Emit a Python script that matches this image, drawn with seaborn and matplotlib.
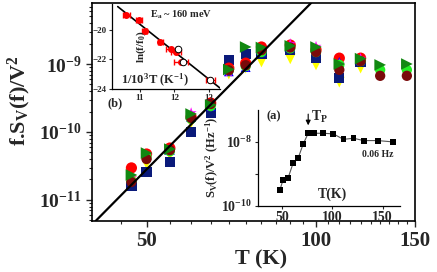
import numpy as np
import pandas as pd
import matplotlib
matplotlib.use('Agg')
import matplotlib.pyplot as plt
import seaborn as sns
from matplotlib.ticker import FixedLocator, NullFormatter

# ── DATA ─────────────────────────────────────────────────────
T = [47, 50, 55, 60, 65, 70, 75, 80, 90, 100, 110, 120, 130, 145]
nan = np.nan
red     = [2.96e-11, 4.74e-11, 5.8e-11, 1.66e-10, 2.67e-10, 8.7e-10, 1.03e-9, 1.78e-9, 1.9e-9, 1.61e-9, 1.22e-9, 1.22e-9, nan, nan]
maroon  = [1.84e-11, 4.0e-11, 5.4e-11, 1.61e-10, 2.58e-10, 8.1e-10, 9.6e-10, 1.6e-9, 1.75e-9, 1.5e-9, 8.2e-10, 1.1e-9, 6.7e-10, 6.7e-10]
green   = [2.33e-11, 4.9e-11, 5.6e-11, 1.84e-10, 2.5e-10, 8.3e-10, 1.78e-9, 1.75e-9, 1.85e-9, 1.78e-9, 1.0e-9, 1.2e-9, 9.7e-10, 1.0e-9]
lime    = [1.9e-11, 4.3e-11, 5.2e-11, 1.56e-10, 2.4e-10, 8.1e-10, 9.3e-10, 1.5e-9, 1.7e-9, 1.5e-9, 9.7e-10, 1.1e-9, 8.2e-10, 8.2e-10]
blue    = [2.04e-11, 4.6e-11, 5.43e-11, 1.66e-10, 2.4e-10, 7.8e-10, 9.0e-10, 1.5e-9, 1.8e-9, 1.6e-9, 1.07e-9, 1.15e-9, nan, nan]
magenta = [2.1e-11, 4.5e-11, 5.5e-11, 1.9e-10, 2.4e-10, 7.6e-10, 9e-10, 1.6e-9, 1.97e-9, 1.8e-9, 1.0e-9, 1.2e-9, nan, nan]
yellow  = [1.9e-11, 3.4e-11, 4.6e-11, 1.36e-10, 2.11e-10, 7.1e-10, 8.7e-10, 1.07e-9, 1.19e-9, 9.7e-10, 5.4e-10, 8.7e-10, nan, nan]
navy    = [1.6e-11, 2.58e-11, 3.62e-11, 1.0e-10, 1.9e-10, 1.15e-9, 1.40e-9, 1.40e-9, 1.61e-9, 1.22e-9, 6.2e-10, 1.07e-9, nan, nan]

line_T = [40.6, 98.0]
line_y = [4.9e-12, 7.9e-9]

y_ticks = [1e-11, 1e-10, 1e-9]
y_ticklabels = [r'$\mathrm{10^{-11}}$', r'$\mathrm{10^{-10}}$', r'$\mathrm{10^{-9}}$']
x_ticks = [50, 100, 150]

# inset (a): S_V(f)/V^2 at 0.06 Hz
Ta = [48, 51, 56, 61, 66, 71, 76, 79, 82, 91, 101, 111, 121, 131, 145, 160]
Sa = [3.2e-10, 6.5e-10, 7.4e-10, 2.16e-9, 3.1e-9, 8.5e-9, 1.86e-8, 1.86e-8, 1.86e-8,
      1.86e-8, 1.78e-8, 1.2e-8, 1.3e-8, 1.1e-8, 1.1e-8, 1.0e-8]

# inset (b): Arrhenius plot
invT   = [10.61, 10.98, 11.14, 11.6, 11.9, 12.05, 12.2, 13.05]
lnf    = [-18.98, -19.37, -20.1, -20.8, -21.3, -21.5, -22.15, -23.4]
invT_e = [0.1, 0.08, 0.08, 0.08, 0.15, 0.15, 0.2, 0.12]
open_x = [12.1, 12.25, 13.05]
open_y = [-21.3, -22.15, -23.4]
fit_x = [10.36, 13.32]
fit_y = [-18.44, -23.93]

# ── STYLE ────────────────────────────────────────────────────
sns.set_theme(style='ticks')
plt.rcParams['font.family'] = ['Liberation Serif', 'DejaVu Serif']
plt.rcParams['font.weight'] = 'bold'
plt.rcParams['mathtext.fontset'] = 'custom'
plt.rcParams['mathtext.rm'] = 'Liberation Serif:bold'
plt.rcParams['mathtext.it'] = 'Liberation Serif:italic:bold'
plt.rcParams['mathtext.bf'] = 'Liberation Serif:bold'

fig = plt.figure(figsize=(4.37, 2.72), dpi=100)
ax = fig.add_axes([0.2105, 0.1875, 0.7395, 0.8015])

series = [
    (yellow,  'yellow',  'v', 60),
    (navy,    '#0a1a7a', 's', 55),
    (red,     'red',     'o', 65),
    (blue,    'blue',    '^', 50),
    (magenta, 'magenta', '*', 70),
    (lime,    '#22ee22', 'o', 55),
    (maroon,  '#7a0a0a', 'o', 55),
    (green,   '#118811', '>', 70),
]
for vals, col, mk, sz in series:
    d = pd.DataFrame({'T': T, 'v': vals}).dropna()
    sns.scatterplot(data=d, x='T', y='v', ax=ax, color=col, marker=mk,
                    s=sz, edgecolor='none', linewidth=0, zorder=3)

sns.lineplot(x=line_T, y=line_y, ax=ax, color='black', lw=1.6, zorder=4)

ax.set_xscale('log')
ax.set_yscale('log')
ax.set_xlim(40, 150)
ax.set_ylim(4.9e-12, 7.9e-9)
ax.xaxis.set_major_locator(FixedLocator(x_ticks))
ax.xaxis.set_minor_locator(FixedLocator(np.arange(45, 150, 5)))
ax.xaxis.set_minor_formatter(NullFormatter())
ax.set_xticklabels([str(t) for t in x_ticks])
ax.set_yticks(y_ticks)
ax.set_yticklabels(y_ticklabels)
ax.tick_params(axis='x', labelsize=15, length=4, width=1, direction='out')
ax.tick_params(axis='y', labelsize=14, length=4, width=1, direction='out')
ax.tick_params(which='minor', length=2.5, width=0.8)
for s in ax.spines.values():
    s.set_linewidth(1.2)
    s.set_color('black')
ax.set_xlabel('')
ax.set_ylabel('')
fig.text(0.597, 0.045, 'T (K)', fontsize=16, ha='center', va='center')
fig.text(0.045, 0.63, r'f.S$_\mathrm{V}$(f)/V$^2$', fontsize=16,
         rotation=90, ha='center', va='center')

# ── INSET (b) ────────────────────────────────────────────────
axb = fig.add_axes([0.256, 0.673, 0.247, 0.312])
axb.errorbar(invT, lnf, xerr=invT_e, fmt='o', color='red', ms=4,
             elinewidth=1, capsize=2, zorder=3)
sns.scatterplot(x=open_x, y=open_y, ax=axb, marker='o', s=22,
                facecolor='white', edgecolor='black', linewidth=0.7, zorder=4)
sns.lineplot(x=fit_x, y=fit_y, ax=axb, color='black', lw=1.2, zorder=2)
axb.set_xlim(10.19, 13.32)
axb.set_ylim(-24, -18.27)
axb.set_xticks([11, 12, 13])
axb.set_yticks([-20, -22, -24])
axb.tick_params(labelsize=6.5, length=2.5, width=0.8, pad=1.5)
axb.spines['top'].set_visible(False)
axb.spines['right'].set_visible(False)
for s in ['left', 'bottom']:
    axb.spines[s].set_linewidth(0.9)
    axb.spines[s].set_color('black')
axb.patch.set_alpha(0)
axb.text(11.29, -18.98, r'E$_\mathrm{a}$ ~ 160 meV', fontsize=7.5, va='center')
axb.text(11.05, -21.15, r'ln(f/f$_0$)', fontsize=8, rotation=90, ha='center', va='center')
axb.text(11.43, -23.4, r'1/10$^3$T (K$^{-1}$)', fontsize=9, ha='center', va='center')
fig.text(0.263, 0.621, '(b)', fontsize=9, ha='center', va='center')

# ── INSET (a) ────────────────────────────────────────────────
axa = fig.add_axes([0.590, 0.243, 0.325, 0.353])
sns.lineplot(x=Ta, y=Sa, ax=axa, color='#555555', lw=0.8, zorder=2)
sns.scatterplot(x=Ta, y=Sa, ax=axa, marker='s', s=18, color='black',
                edgecolor='none', zorder=3)
axa.set_yscale('log')
axa.set_xlim(26, 167)
axa.set_ylim(1e-10, 1e-7)
axa.set_xticks([50, 100, 150])
axa.set_yticks([1e-10, 1e-8])
axa.set_yticklabels([r'$\mathrm{10^{-10}}$', r'$\mathrm{10^{-8}}$'])
axa.yaxis.set_minor_locator(FixedLocator([1e-9]))
axa.yaxis.set_minor_formatter(NullFormatter())
axa.tick_params(labelsize=10, length=2.5, width=0.8, pad=1.5)
axa.tick_params(which='minor', length=2.5, width=0.8)
axa.spines['top'].set_visible(False)
axa.spines['right'].set_visible(False)
for s in ['left', 'bottom']:
    axa.spines[s].set_linewidth(0.9)
    axa.spines[s].set_color('black')
axa.patch.set_alpha(0)
axa.set_ylabel('')
fig.text(0.487, 0.42, r'S$_\mathrm{V}$(f)/V$^2$ (Hz$^{-1}$)', fontsize=9,
         rotation=90, ha='center', va='center')
axa.text(0.06, 0.93, '(a)', transform=axa.transAxes, fontsize=9, va='center')
axa.annotate('', xy=(76, 2.7e-8), xytext=(76, 9e-8),
             arrowprops=dict(arrowstyle='-|>', color='black', lw=0.8,
                             mutation_scale=7))
axa.text(79, 6e-8, r'T$_\mathrm{P}$', fontsize=10, va='center')
axa.text(145, 3.9e-9, '0.06 Hz', fontsize=7, ha='center', va='center')
axa.text(100, 2.3e-10, 'T(K)', fontsize=10, ha='center', va='center')

fig.savefig('out.png', dpi=100)
